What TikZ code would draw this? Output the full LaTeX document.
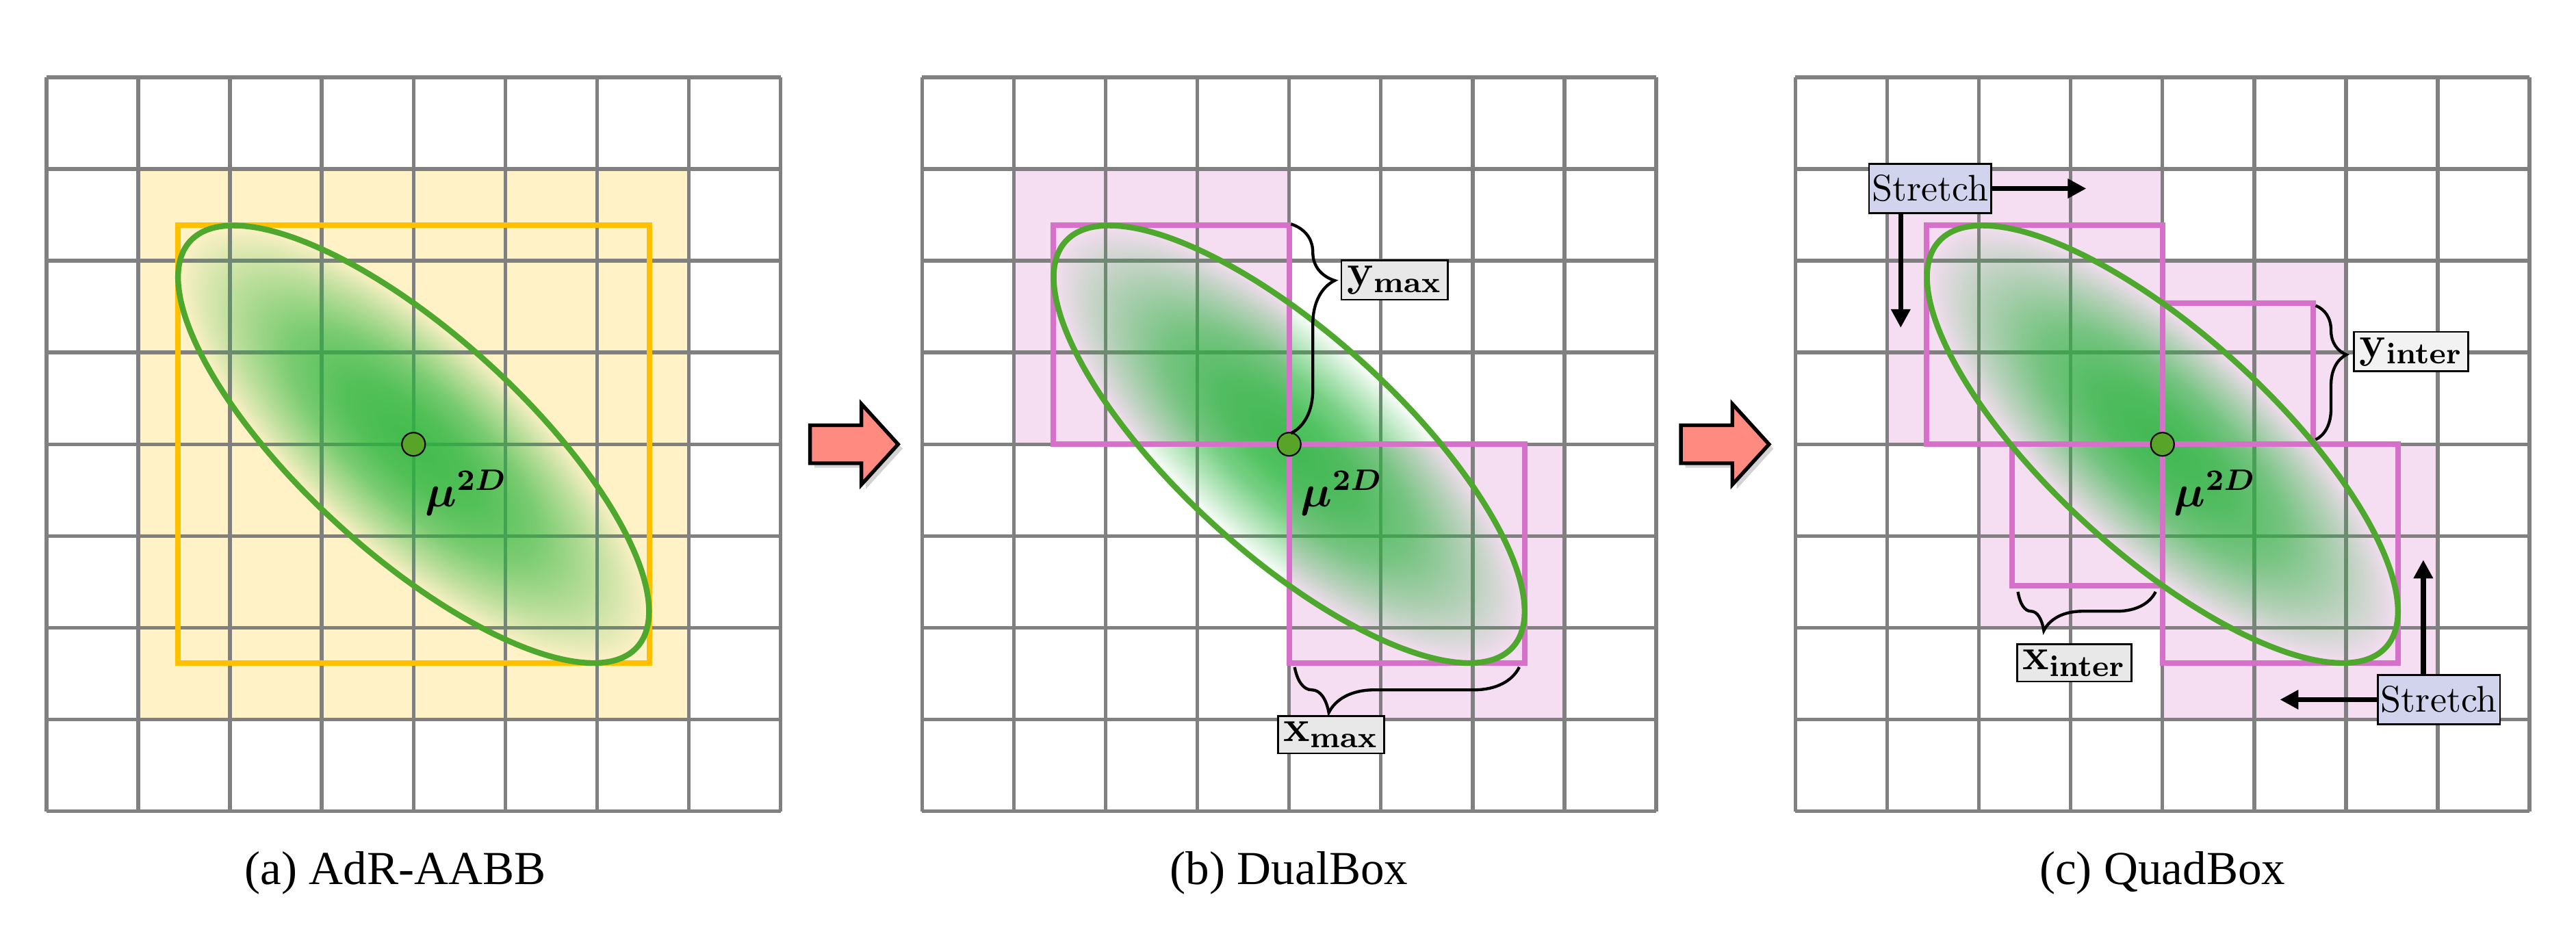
\documentclass[tikz,border=0pt]{standalone}
\usepackage{amsmath}
\usepackage[no-math]{fontspec}
\newfontfamily\capserif{Liberation Serif}
\usetikzlibrary{arrows.meta,decorations.pathreplacing,fadings,shadows}

\definecolor{gridgray}{RGB}{128,128,128}
\definecolor{aabbfill}{RGB}{255,242,199}
\definecolor{aabbline}{RGB}{255,192,0}
\definecolor{tilefill}{RGB}{246,222,242}
\definecolor{tileline}{RGB}{214,112,200}
\definecolor{gaussline}{RGB}{78,168,46}
\definecolor{gausscore}{RGB}{40,180,60}
\definecolor{dotgreen}{RGB}{88,164,40}
\definecolor{tagfill}{RGB}{232,232,232}
\definecolor{stretchfill}{RGB}{210,212,238}
\definecolor{salmon}{RGB}{255,138,128}

% opacity profile of the splat, dense in the middle
\pgfdeclareradialshading{gaussmask}{\pgfpointorigin}{%
    color(0bp)=(pgftransparent!12);
    color(7bp)=(pgftransparent!20);
    color(13bp)=(pgftransparent!38);
    color(19bp)=(pgftransparent!68);
    color(25bp)=(pgftransparent!100);
    color(50bp)=(pgftransparent!100)}
\pgfdeclarefading{gaussfade}{\pgfuseshading{gaussmask}}

\tikzset{
    cellgrid/.style={
            draw=gridgray,
            step=1, % one cell per unit
            line width=1pt
        }
}
\tikzset{
    tilebox/.style={
            draw={#1},
            line width=1.5pt
        },
    tilebox/.default={tileline}
}
\tikzset{
    gaussring/.style={
            draw=gaussline,
            line width=1.55pt
        }
}
\tikzset{
    centerdot/.style={
            circle,
            fill=dotgreen,
            draw=black,
            line width=0.4pt,
            inner sep=0pt, % no inside-rectangle
            minimum size=6.3pt
        },
    mulabel/.style={
            inner sep=0pt,
            font=\large,
            anchor=base west
        }
}
\tikzset{
    curly/.style n args={2}{
            decorate,
            decoration={brace, amplitude={#1}, aspect={#2}},
            line width=0.8pt
        }
}
\tikzset{
    labeltag/.style={
            draw,
            line width=0.5pt,
            fill={#1},
            inner sep=1.5pt,
            font=\large
        },
    labeltag/.default={tagfill},
    stretchtag/.style={
            draw,
            line width=0.5pt,
            fill=stretchfill,
            inner xsep=0.8pt,
            inner ysep=3pt
        },
    stretcharrow/.style={
            line width=1.35pt,
            -{Triangle[length=5pt,width=5pt]}
        }
}
\tikzset{
    bigarrow/.style={
            draw=black,
            line width=1pt,
            fill=salmon,
            drop shadow={shadow xshift=1.2pt, shadow yshift=-1.2pt, opacity=0.35}
        },
    subcap/.style={
            font=\capserif\fontsize{12.8}{15}\selectfont,
            anchor=base,
            inner sep=0pt
        }
}

\begin{document}
\begin{tikzpicture}[x=0.872cm, y=0.872cm]
    \useasboundingbox (-0.506,-1.337) rectangle (27.563,8.842);
    \coordinate (ca) at (4,4);
    \coordinate (cb) at (13.541,4);
    \coordinate (cc) at (23.057,4);
    %
    % cells and grids
    \begin{scope}
        \fill[aabbfill] (1,1) rectangle (7,7);
        \draw[cellgrid] (0,0) grid (8,8);
    \end{scope}
    \begin{scope}[shift={(9.541,0)}]
        \fill[tilefill] (1,4) rectangle (4,7);
        \fill[tilefill] (4,1) rectangle (7,4);
        \draw[cellgrid] (0,0) grid (8,8);
    \end{scope}
    \begin{scope}[shift={(19.057,0)}]
        \fill[tilefill] (1,4) rectangle (4,7);
        \fill[tilefill] (4,4) rectangle (6,6);
        \fill[tilefill] (4,1) rectangle (7,4);
        \fill[tilefill] (2,2) rectangle (4,4);
        \draw[cellgrid] (0,0) grid (8,8);
    \end{scope}
    %
    % gaussians
    \foreach \c in {ca,cb,cc}{
        \begin{scope}[transform canvas={rotate around={-42.25:(\c)}}]
            \fill[gausscore, path fading=gaussfade] (\c) ellipse [x radius=3.29, y radius=1.2];
        \end{scope}
    }
    %
    % (a) AdR-AABB
    \begin{scope}
        \draw[tilebox=aabbline] (1.432,1.614) rectangle (6.568,6.386);
        \draw[gaussring, rotate around={-42.25:(4,4)}] (4,4) ellipse [x radius=3.29, y radius=1.2];
        \node[centerdot] (mua) at (4,4) {};
        \node[mulabel] (mutexta) at (4.12,3.32) {$\boldsymbol{\mu}^{\boldsymbol{2D}}$};
        \node[subcap] (capa) at (3.8,-0.8) {(a) AdR-AABB};
    \end{scope}
    %
    % (b) DualBox
    \begin{scope}[shift={(9.541,0)}]
        \draw[tilebox] (1.432,4) rectangle (4,6.386);
        \draw[tilebox] (4,1.614) rectangle (6.568,4);
        \draw[gaussring, rotate around={-42.25:(4,4)}] (4,4) ellipse [x radius=3.29, y radius=1.2];
        \node[centerdot] (mub) at (4,4) {};
        \node[mulabel] (mutextb) at (4.12,3.32) {$\boldsymbol{\mu}^{\boldsymbol{2D}}$};
        %
        \coordinate (ymaxtop) at (4.02,6.40);
        \coordinate (ymaxbot) at (4.02,4.12);
        \draw[curly={11.8pt}{0.27}] (ymaxtop) -- (ymaxbot);
        \node[labeltag, anchor=west] (ymax) at (4.56,5.79) {$\mathbf{y}_{\mathbf{max}}$};
        \coordinate (xmaxright) at (6.508,1.571);
        \coordinate (xmaxleft) at (4.06,1.571);
        \draw[curly={12.3pt}{0.848}] (xmaxright) -- (xmaxleft);
        \node[labeltag, anchor=north] (xmax) at (4.456,1.05) {$\mathbf{x}_{\mathbf{max}}$};
        \node[subcap] (capb) at (4,-0.8) {(b) DualBox};
    \end{scope}
    %
    % (c) QuadBox
    \begin{scope}[shift={(19.057,0)}]
        \draw[tilebox] (1.432,4) rectangle (4,6.386);
        \draw[tilebox] (4,4) rectangle (5.64,5.54);
        \draw[tilebox] (4,1.614) rectangle (6.568,4);
        \draw[tilebox] (2.36,2.46) rectangle (4,4);
        \draw[gaussring, rotate around={-42.25:(4,4)}] (4,4) ellipse [x radius=3.29, y radius=1.2];
        \node[centerdot] (muc) at (4,4) {};
        \node[mulabel] (mutextc) at (4.12,3.32) {$\boldsymbol{\mu}^{\boldsymbol{2D}}$};
        %
        \coordinate (yintertop) at (5.669,5.511);
        \coordinate (yinterbot) at (5.669,4.05);
        \draw[curly={8.3pt}{0.366}] (yintertop) -- (yinterbot);
        \node[labeltag=tagfill!55, anchor=west] (yinter) at (6.078,5.009) {$\mathbf{y}_{\mathbf{inter}}$};
        \coordinate (xinterright) at (3.925,2.392);
        \coordinate (xinterleft) at (2.425,2.392);
        \draw[curly={10.5pt}{0.812}] (xinterright) -- (xinterleft);
        \node[labeltag, anchor=north west] (xinter) at (2.406,1.832) {$\mathbf{x}_{\mathbf{inter}}$};
        %
        \node[stretchtag] (stretchtl) at (1.467,6.787) {Stretch};
        \node[stretchtag] (stretchbr) at (7.012,1.217) {Stretch};
        \coordinate (pushright) at (3.17,6.787);
        \coordinate (pushdown) at (1.148,5.27);
        \coordinate (pushleft) at (5.28,1.217);
        \coordinate (pushup) at (6.842,2.74);
        \draw[stretcharrow] (stretchtl.east) -- (pushright);
        \draw[stretcharrow] (stretchtl.south -| pushdown) -- (pushdown);
        \draw[stretcharrow] (stretchbr.west) -- (pushleft);
        \draw[stretcharrow] (stretchbr.north -| pushup) -- (pushup);
        \node[subcap] (capc) at (4,-0.8) {(c) QuadBox};
    \end{scope}
    %
    % step arrows
    \foreach \ax in {8.32,17.81}{
        \draw[bigarrow] (\ax,3.793) -- ++(0.56,0) -- ++(0,-0.233) -- ++(0.40,0.44)
        -- ++(-0.40,0.44) -- ++(0,-0.233) -- ++(-0.56,0) -- cycle;
    }
\end{tikzpicture}
\end{document}
